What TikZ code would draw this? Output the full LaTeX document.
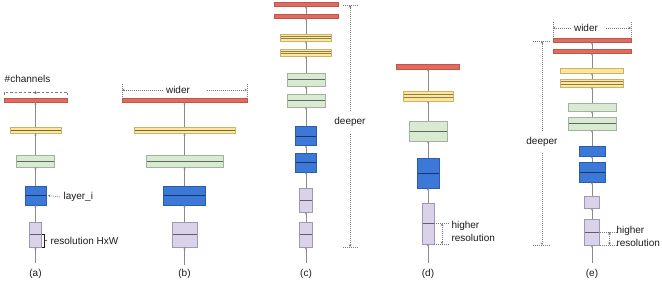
\documentclass[tikz,border=0pt]{standalone}
\usepackage{fontspec}
\setmainfont{Liberation Sans}
\usetikzlibrary{arrows.meta, positioning, calc}

\definecolor{redfill}{HTML}{E06C5F}
\definecolor{redline}{HTML}{C2554A}
\definecolor{yellowfill}{HTML}{FFE699}
\definecolor{yellowline}{HTML}{C9B36A}
\definecolor{greenfill}{HTML}{D9EAD3}
\definecolor{greenline}{HTML}{A2B29C}
\definecolor{bluefill}{HTML}{3C78D8}
\definecolor{blueline}{HTML}{2D5DA8}
\definecolor{lavfill}{HTML}{D9D2E9}
\definecolor{lavline}{HTML}{A098B2}
\definecolor{flowgray}{HTML}{8A8A8A}
\definecolor{notegray}{HTML}{7A7A7A}
\definecolor{textgray}{HTML}{1A1A1A}

\begin{document}
\begin{tikzpicture}[
    x=1pt, y=-1pt,
    font=\fontsize{10}{13}\selectfont, text=textgray,
    block/.style={draw, line width=0.8pt, inner sep=0pt, outer sep=0pt},
    redbar/.style={block, fill=redfill, draw=redline, minimum height=4pt},
    yellowbar/.style={block, fill=yellowfill, draw=yellowline},
    greenbox/.style={block, fill=greenfill, draw=greenline},
    bluebox/.style={block, fill=bluefill, draw=blueline},
    lavbox/.style={block, fill=lavfill, draw=lavline},
    split/.style={path picture={\draw[black, opacity=0.55, line width=0.9pt]
        (path picture bounding box.west) -- (path picture bounding box.east);}},
    splittwo/.style={path picture={\draw[black, opacity=0.45, line width=0.8pt]
        ($(path picture bounding box.north west)!0.36!(path picture bounding box.south west)$) --
        ($(path picture bounding box.north east)!0.36!(path picture bounding box.south east)$)
        ($(path picture bounding box.north west)!0.66!(path picture bounding box.south west)$) --
        ($(path picture bounding box.north east)!0.66!(path picture bounding box.south east)$);}},
    flow/.style={draw=flowgray, line width=0.6pt, -{Stealth[length=2.5pt, width=2pt]}},
    note/.style={draw=notegray, line width=0.6pt, dash pattern=on 1pt off 1pt},
    tip/.style={-{Stealth[length=2.5pt, width=2.5pt]}},
    bothtips/.style={{Stealth[length=2.5pt, width=2.5pt]}-{Stealth[length=2.5pt, width=2.5pt]}}
]
\useasboundingbox (0,0) rectangle (662,283);

% (a) baseline
\node[lavbox, split, minimum width=12pt, minimum height=25pt] (a1) at (35.5,234.5) {};
\node[bluebox, split, minimum width=21pt, minimum height=19pt] (a2) at (35.5,195.5) {};
\node[greenbox, split, minimum width=38pt, minimum height=12pt] (a3) at (35.5,161) {};
\node[yellowbar, split, minimum width=51pt, minimum height=6pt] (a4) at (35.5,130) {};
\node[redbar, minimum width=63pt] (a5) at (35.5,100) {};

% (b) wider
\node[lavbox, split, minimum width=25pt, minimum height=25pt] (b1) at (184.5,234.5) {};
\node[bluebox, split, minimum width=42pt, minimum height=19pt] (b2) at (184.5,195.5) {};
\node[greenbox, split, minimum width=77pt, minimum height=12pt] (b3) at (184.5,161) {};
\node[yellowbar, split, minimum width=101pt, minimum height=6pt] (b4) at (184.5,130) {};
\node[redbar, minimum width=125pt] (b5) at (184.5,100) {};

% (c) deeper
\node[lavbox, split, minimum width=13pt, minimum height=25pt] (c1) at (306,234.5) {};
\node[lavbox, split, minimum width=13pt, minimum height=24pt] (c2) at (306,200) {};
\node[bluebox, split, minimum width=21pt, minimum height=19pt] (c3) at (306,162.5) {};
\node[bluebox, split, minimum width=21pt, minimum height=19pt] (c4) at (306,136) {};
\node[greenbox, split, minimum width=38pt, minimum height=13pt] (c5) at (306,100.5) {};
\node[greenbox, split, minimum width=38pt, minimum height=13pt] (c6) at (306,79.5) {};
\node[yellowbar, splittwo, minimum width=51pt, minimum height=7pt] (c7) at (306,52.5) {};
\node[yellowbar, splittwo, minimum width=51pt, minimum height=7pt] (c8) at (306,37.5) {};
\node[redbar, minimum width=64pt] (c9) at (306,16) {};
\node[redbar, minimum width=64pt] (c10) at (306,4) {};

% (d) higher resolution
\node[lavbox, split, minimum width=12pt, minimum height=41pt] (d1) at (428,223.5) {};
\node[bluebox, split, minimum width=22pt, minimum height=30pt] (d2) at (428,173) {};
\node[greenbox, split, minimum width=38pt, minimum height=20pt] (d3) at (428,131) {};
\node[yellowbar, splittwo, minimum width=50pt, minimum height=10pt] (d4) at (428,96) {};
\node[redbar, minimum width=63pt, minimum height=5pt] (d5) at (428,66.5) {};

% (e) compound
\node[lavbox, split, minimum width=15pt, minimum height=26pt] (e1) at (592,232) {};
\node[lavbox, minimum width=15pt, minimum height=12pt] (e2) at (592,202) {};
\node[bluebox, split, minimum width=26pt, minimum height=20pt] (e3) at (592,172) {};
\node[bluebox, minimum width=26pt, minimum height=10pt] (e4) at (592,151) {};
\node[greenbox, split, minimum width=48pt, minimum height=13pt] (e5) at (592,123.5) {};
\node[greenbox, minimum width=48pt, minimum height=8pt] (e6) at (592,107) {};
\node[yellowbar, splittwo, minimum width=63pt, minimum height=8pt] (e7) at (592,83) {};
\node[yellowbar, minimum width=63pt, minimum height=5pt] (e8) at (592,70.5) {};
\node[redbar, minimum width=78pt] (e9) at (592,51) {};
\node[redbar, minimum width=78pt] (e10) at (592,40) {};

% Inputs and captions
\foreach \col/\x/\y in {a/35.5/263, b/184.5/265, c/306/263, d/428/263, e/592/263} {
    \coordinate (\col in) at (\x,\y);
    \node (\col lab) at (\x,274) {(\col)};
    \draw[flow] (\col in) -- (\col1.south);
}

% Connections between layers
\foreach \col/\last in {a/4, b/4, c/9, d/4, e/9}
    \foreach \i in {1,...,\last} {
        \pgfmathtruncatemacro{\j}{\i+1}
        \draw[flow] (\col\i.north) -- (\col\j.south);
    }

% (a) annotations
\node (chan) at (27.5,79) {\#channels};
\draw[draw=notegray, line width=0.6pt, dash pattern=on 2.5pt off 2pt]
    ([yshift=3pt]a5.north west) -- ([yshift=6pt]a5.north west) -- ([yshift=6pt]a5.north east) -- ([yshift=3pt]a5.north east);
\draw[draw=notegray, line width=0.6pt, tip] ([yshift=5pt]a5.north) -- ([yshift=7pt]a5.north);
\node[right] (layer) at (60,197) {layer\_i};
\draw[note, tip] (layer.west) -- ([xshift=2pt]a2.east);
\node[right] (res) at (47,240.5) {resolution HxW};
\coordinate (resmid) at ($([xshift=3pt]a1.east)!0.5!([xshift=3pt]a1.south east)$);
\draw[draw=textgray, line width=0.5pt] (a1.east) -| (resmid) |- (a1.south east);
\draw[draw=textgray, line width=0.5pt] (resmid) -- (res.west);

% (b) annotations
\node (wideb) at (178,90) {wider};
\draw[note] ([yshift=1pt]b5.north west) -- ([yshift=15pt]b5.north west);
\draw[note] ([yshift=1pt]b5.north east) -- ([yshift=15pt]b5.north east);
\draw[note, tip] (wideb.west) -- ([yshift=8pt]b5.north west);
\draw[note, tip] ([xshift=14pt]wideb.east) -- ([yshift=8pt]b5.north east);

% (c) annotations
\coordinate (ctop) at (350,5);
\coordinate (cbot) at (350,247);
\node (deepc) at (350,122) {deeper};
\draw[note] ([xshift=-7pt]ctop) -- ([xshift=8pt]ctop);
\draw[note] ([xshift=-7pt]cbot) -- ([xshift=8pt]cbot);
\draw[note, tip, shorten <=3pt] (deepc.north) -- (ctop);
\draw[note, tip, shorten <=4pt] (deepc.south) -- (cbot);

% (d) annotations
\draw[note] (d1.east) -- ++(16,0);
\draw[note] (d1.south east) -- ++(16,0);
\draw[note, bothtips] ([xshift=8pt]d1.east) -- ([xshift=8pt]d1.south east);
\node[right, align=left] (hrd) at (448,231) {higher\\resolution};

% (e) annotations
\node (widee) at (586,28) {wider};
\draw[note] ([yshift=1pt]e10.north west) -- ([yshift=16pt]e10.north west);
\draw[note] ([yshift=1pt]e10.north east) -- ([yshift=16pt]e10.north east);
\draw[note, tip] (widee.west) -- ([yshift=10pt]e10.north west);
\draw[note, tip] ([xshift=5pt]widee.east) -- ([yshift=10pt]e10.north east);
\coordinate (etop) at (542,41);
\coordinate (ebot) at (542,245);
\node (deepe) at (542,142) {deeper};
\draw[note] ([xshift=-9pt]etop) -- ([xshift=8pt]etop);
\draw[note] ([xshift=-9pt]ebot) -- ([xshift=8pt]ebot);
\draw[note, tip, shorten <=3pt] (deepe.north) -- (etop);
\draw[note, tip, shorten <=3pt] (deepe.south) -- (ebot);
\draw[note] (e1.east) -- ++(18,0);
\draw[note] (e1.south east) -- ++(18,0);
\draw[note, bothtips] ([xshift=10pt]e1.east) -- ([xshift=10pt]e1.south east);
\node[right, align=left] (hre) at (613,236) {higher\\resolution};

\end{tikzpicture}
\end{document}
